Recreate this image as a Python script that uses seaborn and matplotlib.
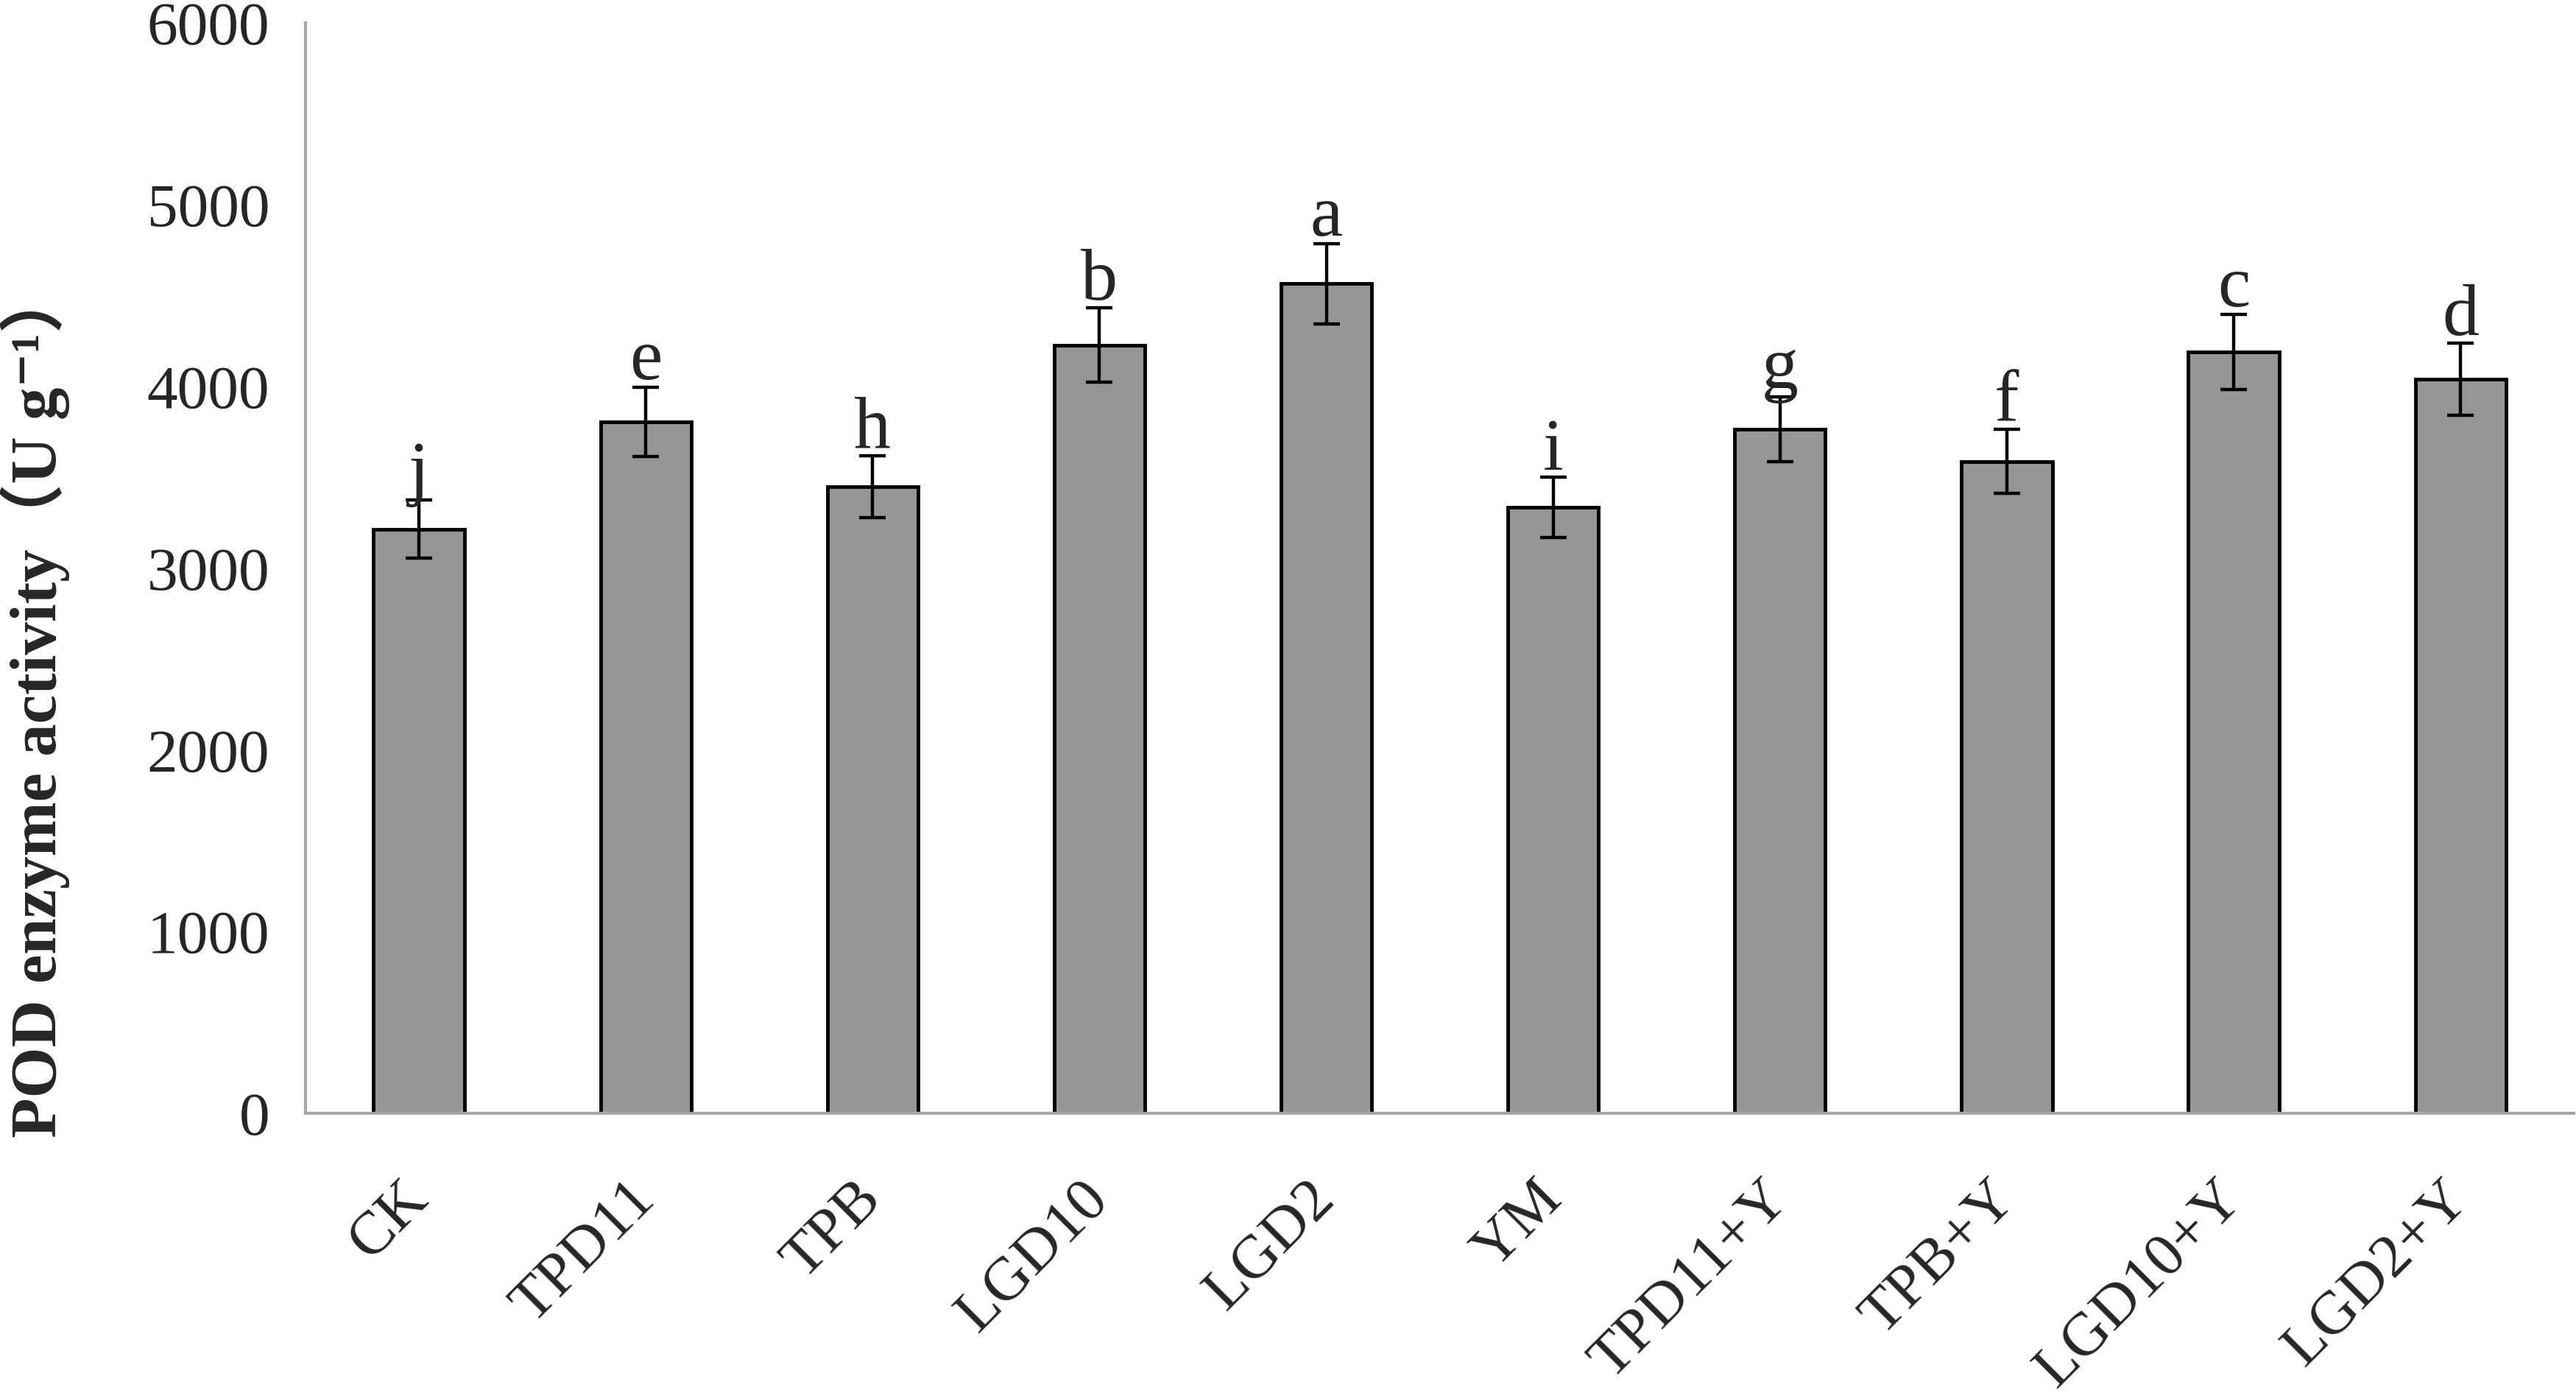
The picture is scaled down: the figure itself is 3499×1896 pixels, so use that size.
import numpy as np
import pandas as pd
import matplotlib.pyplot as plt
import matplotlib.transforms as mtransforms
import seaborn as sns

treatments = ["CK", "TPD11", "TPB", "LGD10", "LGD2", "YM",
              "TPD11+Y", "TPB+Y", "LGD10+Y", "LGD2+Y"]
pod_mean = [3215, 3805, 3450, 4228, 4565, 3335, 3765, 3588, 4190, 4040]
pod_sd = [160, 190, 170, 205, 220, 165, 180, 175, 205, 200]
letters = ["j", "e", "h", "b", "a", "i", "g", "f", "c", "d"]
y_ticks = [0, 1000, 2000, 3000, 4000, 5000, 6000]

df = pd.DataFrame({"Treatment": treatments, "POD": pod_mean})

sns.set_style("white")
plt.rcParams["font.family"] = ["Liberation Serif", "Noto Sans CJK SC", "DejaVu Sans"]

axis_grey = "#a6a6a6"

fig = plt.figure(figsize=(34.99, 18.96), dpi=100)
ax = fig.add_axes([0.1186, 0.2024, 0.8806, 0.7811])

sns.barplot(data=df, x="Treatment", y="POD", color="#969696", saturation=1,
            width=0.4, edgecolor="black", linewidth=3.5, errorbar=None, ax=ax)
ax.errorbar(np.arange(len(treatments)), pod_mean, yerr=pod_sd, fmt="none",
            ecolor="black", elinewidth=3.2, capsize=13, capthick=3.2, zorder=3)

# significance letters
for i, (m, s, l) in enumerate(zip(pod_mean, pod_sd, letters)):
    ax.text(i, m + s + 45, l, ha="center", va="baseline", fontsize=72)

ax.set_xlim(-0.5, len(treatments) - 0.5)
ax.set_ylim(0, 6000)
ax.set_yticks(y_ticks)
ax.tick_params(axis="y", labelsize=60, length=19, width=2.2, color=axis_grey, pad=16)

# category labels at bar centres, tick marks at boundaries
ax.set_xticks(np.arange(len(treatments)))
ax.set_xticklabels(treatments, rotation=45, ha="right", rotation_mode="anchor")
ax.set_xticks(np.arange(len(treatments) + 1) - 0.5, minor=True)
ax.tick_params(axis="x", which="major", length=0, labelsize=60, pad=56)
ax.tick_params(axis="x", which="minor", length=17, width=2.2, color=axis_grey)
shift = mtransforms.ScaledTranslation(-19 / 72, 0, fig.dpi_scale_trans)
for lab in ax.get_xticklabels():
    lab.set_transform(lab.get_transform() + shift)

for side in ["top", "right"]:
    ax.spines[side].set_visible(False)
for side in ["left", "bottom"]:
    ax.spines[side].set_color(axis_grey)
    ax.spines[side].set_linewidth(3)

ax.set_xlabel("")
ax.set_ylabel("POD enzyme activity（U g⁻¹）", fontsize=64, fontweight="bold")
ax.yaxis.set_label_coords(-0.104, 0.377)

plt.savefig("out.png", dpi=100)
